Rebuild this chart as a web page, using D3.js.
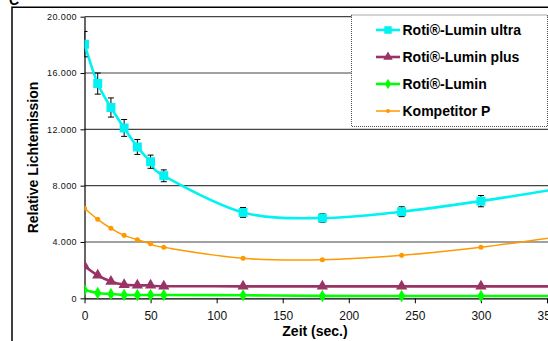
<!DOCTYPE html>
<html>
<head>
<meta charset="utf-8">
<style>
	body { margin: 0; background: #fff; }
	svg { display: block; font-family: Arial, "Liberation Sans", sans-serif; }
</style>
</head>
<body>
	<div id="chart"></div>
	<script src="https://cdn.jsdelivr.net/npm/d3@7"></script>
	<script>
		// Messzeitpunkte (sec.)
		var zeit = [0, 10, 20, 30, 40, 50, 60, 120, 180, 240, 300, 360];
		var lumUltra = [18050, 15250, 13550, 12100, 10750, 9700, 8700, 6100, 5700, 6150, 6900, 7800];
		var lumUltraErr = [900, 750, 680, 600, 530, 470, 420, 350, 300, 350, 400, 400];
		var lumPlus = [2300, 1630, 1200, 970, 920, 920, 860, 850, 850, 850, 850, 850];
		var lumin = [590, 380, 310, 240, 235, 230, 230, 215, 170, 165, 165, 165];
		var kompP = [6400, 5610, 4970, 4470, 4160, 3880, 3620, 2840, 2740, 3050, 3620, 4400];
		var serienNamen = ['Roti®-Lumin ultra', 'Roti®-Lumin plus', 'Roti®-Lumin', 'Kompetitor P'];
		var xTicks = [0, 50, 100, 150, 200, 250, 300, 350];
		var yTicks = [0, 4000, 8000, 12000, 16000, 20000];

		var W = 548, H = 341;
		var series = [
			{ name: serienNamen[0], values: lumUltra, err: lumUltraErr, color: '#00f2f2', width: 2.6, symbol: d3.symbolSquare, size: 80 },
			{ name: serienNamen[1], values: lumPlus, color: '#993366', width: 2.6, symbol: d3.symbolTriangle, size: 55 },
			{ name: serienNamen[2], values: lumin, color: '#00ff00', width: 2.6, symbol: d3.symbolDiamond, size: 45 },
			{ name: serienNamen[3], values: kompP, color: '#ff9900', width: 1.5, symbol: d3.symbolCircle, size: 20 }
		];

		var de = d3.formatLocale({ decimal: ',', thousands: '.', grouping: [3], currency: ['', ' €'] });
		var fmt = de.format(',');

		var svg = d3.select('#chart').append('svg')
			.attr('width', W)
			.attr('height', H);

		var x = d3.scaleLinear().domain([0, 350]).range([84.5, 547]);
		var y = d3.scaleLinear().domain([0, 20000]).range([298.3, 16.7]);

		// Diagrammrahmen
		svg.append('path')
			.attr('d', 'M12,' + H + 'V7.3H' + W)
			.attr('fill', 'none')
			.attr('stroke', '#000')
			.attr('stroke-width', 1.5);
		svg.append('text')
			.attr('x', 9)
			.attr('y', 4.5)
			.attr('font-size', 14)
			.attr('font-weight', 'bold')
			.text('C');

		// Gitternetz
		svg.append('g')
			.selectAll('line')
			.data(yTicks.slice(1))
			.enter().append('line')
			.attr('x1', x(0))
			.attr('x2', W)
			.attr('y1', d => y(d))
			.attr('y2', d => y(d))
			.attr('stroke', '#444')
			.attr('stroke-width', 1.2);

		var defs = svg.append('defs');
		defs.append('clipPath').attr('id', 'plot')
			.append('rect')
			.attr('x', x(0))
			.attr('y', 0)
			.attr('width', W - x(0))
			.attr('height', y(0) + 6);

		// Achsen
		svg.append('g')
			.attr('transform', 'translate(' + x(0) + ',0)')
			.call(d3.axisLeft(y).tickValues(yTicks).tickFormat(fmt).tickSize(4).tickPadding(3.5).tickSizeOuter(0))
			.call(g => {
				g.select('.domain').attr('stroke', '#000').attr('stroke-width', 1.2);
				g.selectAll('line').attr('stroke', '#000');
				g.selectAll('text')
					.attr('font-size', 9)
					.attr('letter-spacing', 0.4)
					.attr('fill', '#111')
					.attr('font-family', 'Arial, "Liberation Sans", sans-serif');
			});

		svg.append('g')
			.attr('transform', 'translate(0,' + y(0) + ')')
			.call(d3.axisBottom(x).tickValues(xTicks).tickSize(5).tickPadding(8.5).tickSizeOuter(0))
			.call(g => {
				g.select('.domain').attr('stroke', '#000').attr('stroke-width', 1.2);
				g.selectAll('line').attr('stroke', '#000');
				g.selectAll('text')
					.attr('font-size', 12)
					.attr('fill', '#111')
					.attr('font-family', 'Arial, "Liberation Sans", sans-serif');
			});

		svg.append('text')
			.attr('x', 315)
			.attr('y', 336)
			.attr('text-anchor', 'middle')
			.attr('font-size', 14)
			.attr('font-weight', 'bold')
			.text('Zeit (sec.)');
		svg.append('text')
			.attr('transform', 'translate(38,157.5) rotate(-90)')
			.attr('text-anchor', 'middle')
			.attr('font-size', 14)
			.attr('font-weight', 'bold')
			.text('Relative Lichtemission');

		// Kurven
		var line = d3.line()
			.x((d, i) => x(zeit[i]))
			.y(d => y(d))
			.curve(d3.curveCatmullRom.alpha(0));

		var plot = svg.append('g').attr('clip-path', 'url(#plot)');

		var groups = plot.selectAll('g.serie')
			.data(series)
			.enter().append('g')
			.attr('class', 'serie');

		groups.append('path')
			.attr('d', d => line(d.values))
			.attr('fill', 'none')
			.attr('stroke', d => d.color)
			.attr('stroke-width', d => d.width);

		// Fehlerbalken
		groups.filter(d => d.err).each(function(d) {
			var g = d3.select(this).append('g').attr('stroke', '#000').attr('stroke-width', 1);
			d.values.forEach((v, i) => {
				var cx = x(zeit[i]);
				g.append('line').attr('x1', cx).attr('x2', cx).attr('y1', y(v - d.err[i])).attr('y2', y(v + d.err[i]));
				g.append('line').attr('x1', cx - 3).attr('x2', cx + 3).attr('y1', y(v - d.err[i])).attr('y2', y(v - d.err[i]));
				g.append('line').attr('x1', cx - 3).attr('x2', cx + 3).attr('y1', y(v + d.err[i])).attr('y2', y(v + d.err[i]));
			});
		});

		groups.each(function(d) {
			d3.select(this).selectAll('path.mark')
				.data(d.values)
				.enter().append('path')
				.attr('class', 'mark')
				.attr('d', d3.symbol().type(d.symbol).size(d.size))
				.attr('transform', (v, i) => 'translate(' + x(zeit[i]) + ',' + y(v) + ')')
				.attr('fill', d.color);
		});

		// Legende
		var legend = svg.append('g').attr('transform', 'translate(351.5,15)');
		legend.append('rect')
			.attr('width', 196)
			.attr('height', 111.5)
			.attr('fill', '#fff')
			.attr('stroke', '#555')
			.attr('stroke-dasharray', '1,1');
		var items = legend.selectAll('g.item')
			.data(series)
			.enter().append('g')
			.attr('class', 'item')
			.attr('transform', (d, i) => 'translate(0,' + (15 + i * 27) + ')');
		items.append('line')
			.attr('x1', 24.5)
			.attr('x2', 48.5)
			.attr('stroke', d => d.color)
			.attr('stroke-width', d => d.width);
		items.append('path')
			.attr('d', d => d3.symbol().type(d.symbol).size(d.size * 0.7)())
			.attr('transform', 'translate(36.5,0)')
			.attr('fill', d => d.color);
		items.append('text')
			.attr('x', 51)
			.attr('y', 5)
			.attr('font-size', 14)
			.attr('font-weight', 'bold')
			.text(d => d.name);
	</script>
</body>
</html>
